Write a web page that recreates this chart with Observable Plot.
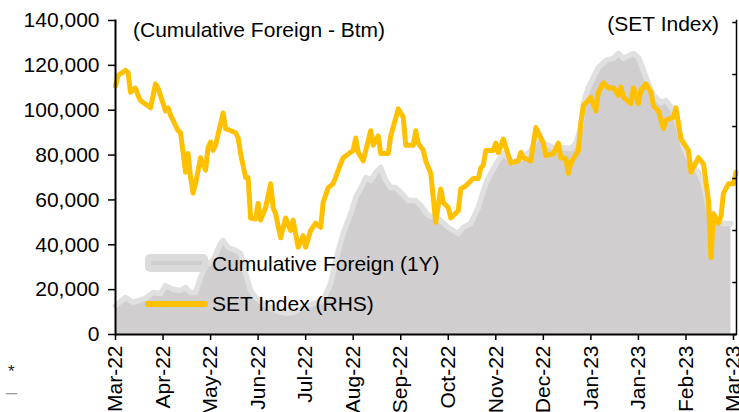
<!DOCTYPE html>
<html><head><meta charset="utf-8">
<script src="https://cdn.jsdelivr.net/npm/d3@7"></script>
<script src="https://cdn.jsdelivr.net/npm/@observablehq/plot@0.6"></script>
<style>body{margin:0;background:#fff;overflow:hidden}</style>
</head><body><div id="chart"></div>
<script>
const tickLabels = ["Mar-22","Apr-22","May-22","Jun-22","Jul-22","Aug-22","Sep-22","Oct-22","Nov-22","Dec-22","Jan-23","Jan-23","Feb-23","Mar-23"];
const tickDays = [0,19,38,57,76,95,114,133,152,171,190,209,228,247];
const leftTicks = [0,20000,40000,60000,80000,100000,120000,140000];
const rightTicks = [1450,1500,1550,1600,1650,1700,1750];

const foreignDays = [0,4,7,12,15,18,20,23,26,28,30,32,34,36,39,42,43,45,48,50,52,54,56,59,64,68,71,75,79,83,86,88,91,94,96,99,100,102,104,106,108,110,112,114,117,120,122,125,129,133,137,139,142,145,148,150,153,155,159,163,166,169,171,175,178,182,184,186,187,189,193,196,199,201,203,207,209,211,213,215,218,220,223,225,227,230,233,235,237,239,242,246];
const foreignValues = [12900,16500,14300,16100,18700,18300,21800,20100,19600,21000,18700,18700,25400,30800,33000,40600,41900,38800,37500,36100,27200,19600,16500,13800,10700,9400,9800,12000,13800,15200,22700,33000,45000,53900,61100,67300,70000,68700,72200,74500,68700,65500,65500,63300,59700,59700,57500,53100,51700,47700,45000,47700,49500,56600,67300,71800,77600,80700,76700,78900,82000,89600,85200,83400,83400,82900,85200,92300,103000,110100,119000,122200,123100,125300,123100,125300,123500,117700,111900,106600,103400,104300,99900,92300,83400,76300,72200,67300,56600,50800,49500,49500];

const setDays = [0,1,4,5,6,8,9,10,14,16,17,20,21,22,25,26,28,29,30,31,32,34,36,37,38,39,40,43,44,48,49,50,52,53,54,56,57,58,60,62,63,64,66,68,70,71,73,75,76,78,80,82,83,85,87,90,91,95,96,97,99,102,103,105,106,109,110,112,113,115,116,119,120,121,123,124,126,128,130,131,133,134,137,138,140,143,145,146,147,148,151,152,153,155,156,158,161,162,163,166,168,171,172,175,177,178,180,181,182,185,186,187,190,192,193,195,197,199,201,202,203,206,207,209,210,212,214,215,217,219,220,223,224,226,229,230,233,235,237,238,239,241,242,243,245,247,248];
const setValues = [1689,1699,1704,1702,1683,1687,1680,1675,1668,1691,1687,1665,1668,1661,1646,1644,1606,1624,1601,1586,1595,1620,1608,1630,1635,1627,1632,1663,1648,1644,1639,1624,1601,1601,1562,1561,1576,1560,1572,1595,1572,1566,1543,1562,1550,1560,1534,1545,1534,1550,1557,1553,1577,1591,1595,1614,1620,1627,1639,1625,1617,1646,1632,1641,1624,1624,1641,1658,1667,1659,1632,1632,1646,1634,1627,1617,1605,1558,1590,1577,1572,1562,1569,1590,1593,1600,1600,1610,1613,1627,1627,1634,1625,1638,1630,1615,1617,1625,1620,1617,1649,1634,1622,1624,1634,1620,1619,1605,1615,1627,1654,1670,1678,1665,1683,1692,1687,1687,1680,1688,1678,1672,1687,1672,1685,1691,1683,1670,1665,1648,1656,1659,1668,1638,1627,1606,1620,1614,1579,1524,1566,1557,1564,1586,1595,1595,1606];

// secondary (right) axis mapped onto the left scale
const SET_MIN = 1450, SET_MAX = 1750, SET_TOP_ON_LEFT = 139100;
const conv = s => (s - SET_MIN) / (SET_MAX - SET_MIN) * SET_TOP_ON_LEFT;

const foreign = foreignDays.map((d, i) => ({day: d, value: foreignValues[i]}));
const setIdx = setDays.map((d, i) => ({day: d, value: conv(setValues[i])}));

const FONT = "'Liberation Sans', Arial, sans-serif";
const FS = 21;
const plot = Plot.plot({
  width: 739, height: 412,
  marginLeft: 115, marginRight: 3, marginTop: 20, marginBottom: 78,
  style: {fontFamily: FONT, fontSize: FS + "px", background: "#fff", color: "#000"},
  x: {domain: [0, 247], range: [115, 733]},
  y: {domain: [0, 140000], range: [334, 20]},
  marks: [
    Plot.areaY(foreign, {x: "day", y: "value", fill: "#d0cece"}),
    Plot.lineY(foreign, {x: "day", y: "value", stroke: "#e1e0e0", strokeWidth: 5.5, strokeLinejoin: "round"}),
    Plot.lineY(setIdx, {x: "day", y: "value", stroke: "#ffc000", strokeWidth: 5, strokeLinejoin: "round", strokeLinecap: "round"}),
    Plot.axisY({ticks: leftTicks, tickFormat: d3.format(","), tickSize: 7, tickPadding: 9, fontSize: FS, label: null, stroke: "#000", strokeWidth: 1.5}),
    Plot.axisY({anchor: "right", ticks: rightTicks.map(conv), tickFormat: () => "", tickSize: 0, label: null}),
    Plot.axisX({ticks: tickDays, tickFormat: d => tickLabels[tickDays.indexOf(d)], tickRotate: -90, tickSize: 6, tickPadding: 5, fontSize: FS, label: null, strokeWidth: 1.5}),
    Plot.ruleY([0], {stroke: "#000", strokeWidth: 2}),
    Plot.frame({anchor: "left", stroke: "#000", strokeWidth: 2}),
    Plot.frame({anchor: "right", stroke: "#000", strokeWidth: 1.5}),
    Plot.ruleY(rightTicks.map(conv), {x1: 246.7, x2: 248.4, stroke: "#000", strokeWidth: 1.5})
  ]
});
document.getElementById("chart").appendChild(plot);

const svg = d3.select(plot);
const t = (x, y, s, opts = {}) => svg.append("text").attr("x", x).attr("y", y)
  .attr("font-family", FONT).attr("font-size", opts.size || FS)
  .attr("fill", opts.fill || "#000").attr("text-anchor", opts.anchor || "start").text(s);

t(133, 37, "(Cumulative Foreign - Btm)");
t(719, 31, "(SET Index)", {anchor: "end"});

// legend
const lg = svg.append("g");
lg.append("rect").attr("x", 145).attr("y", 254).attr("width", 63).attr("height", 18).attr("rx", 5).attr("fill", "#dcdbdb");
lg.append("line").attr("x1", 151).attr("x2", 202).attr("y1", 263).attr("y2", 263).attr("stroke", "#cfcdcd").attr("stroke-width", 4);
lg.append("line").attr("x1", 148).attr("x2", 205).attr("y1", 304).attr("y2", 304).attr("stroke", "#ffc000").attr("stroke-width", 6).attr("stroke-linecap", "round");
t(212, 271, "Cumulative Foreign (1Y)");
t(212, 311, "SET Index (RHS)");

// footnote glyphs
t(8, 377, "*", {size: 17, fill: "#222"});
t(6, 399, "\u2013", {size: 20, fill: "#999"});
</script>
</body></html>
